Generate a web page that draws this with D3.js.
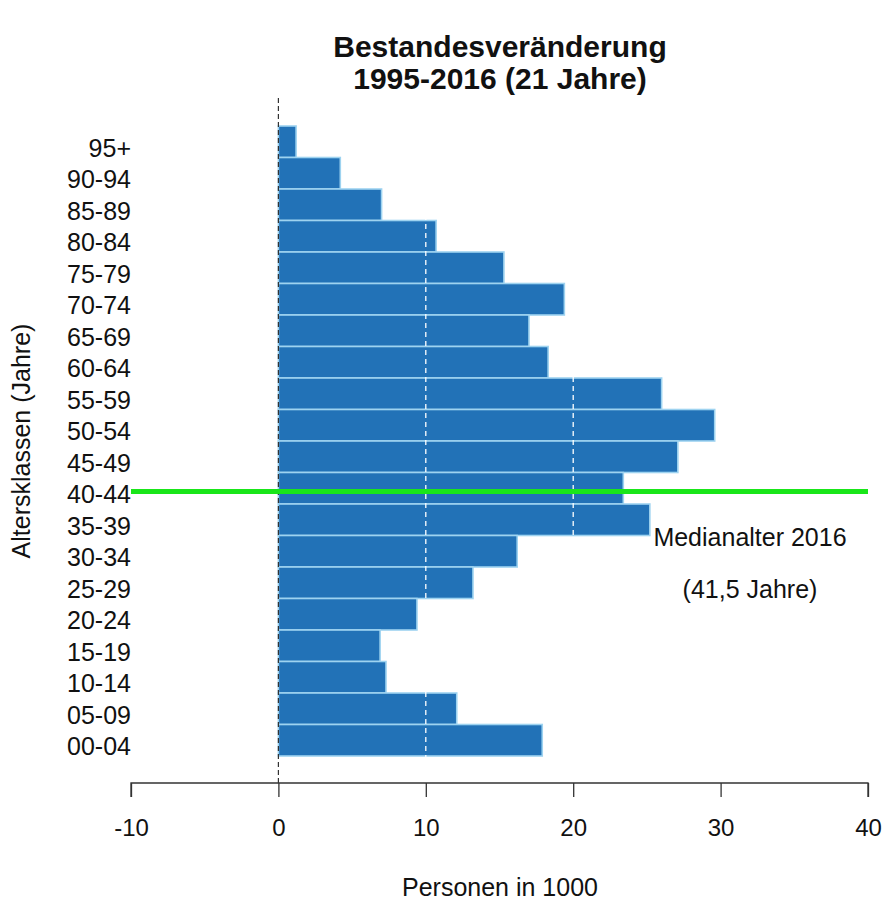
<!DOCTYPE html>
<html>
<head>
<meta charset="utf-8">
<script src="https://cdn.jsdelivr.net/npm/d3@7"></script>
<style>
body{margin:0;background:#fff;}
svg{display:block;font-family:"Liberation Sans",Arial,sans-serif;}
</style>
</head>
<body>
<svg id="c" width="886" height="904"></svg>
<script>
const categories = ["95+","90-94","85-89","80-84","75-79","70-74","65-69","60-64","55-59","50-54","45-49","40-44","35-39","30-34","25-29","20-24","15-19","10-14","05-09","00-04"];
const values = [1.2,4.2,7.0,10.7,15.3,19.4,17.0,18.3,26.0,29.6,27.1,23.4,25.2,16.2,13.2,9.4,6.9,7.3,12.1,17.9];
const xTicks = [-10,0,10,20,30,40];
const gridValues = [10,20,30];
const medianAge = 41.5;
const medianClass = "40-44";
const titleLines = ["Bestandesveränderung","1995-2016 (21 Jahre)"];
const xTitle = "Personen in 1000";
const yTitle = "Altersklassen (Jahre)";
const medianLabel = ["Medianalter 2016","(41,5 Jahre)"];

const svg = d3.select("#c");
const x = d3.scaleLinear().domain([-10,40]).range([131,868]);
const y = d3.scaleBand().domain(categories).range([126,756]).padding(0);

// bars
svg.append("g").selectAll("rect").data(values).join("rect")
  .attr("x", x(0))
  .attr("y", (d,i)=>y(categories[i]))
  .attr("width", d=>x(d)-x(0))
  .attr("height", y.bandwidth())
  .attr("fill","#2272b7")
  .attr("stroke","#9ed3f0")
  .attr("stroke-width",1.6);

// white dashed grid lines over bars
svg.append("g").selectAll("line").data(gridValues).join("line")
  .attr("x1",d=>x(d)).attr("x2",d=>x(d))
  .attr("y1",98).attr("y2",770)
  .attr("stroke","#ffffff").attr("stroke-width",1.3)
  .attr("stroke-dasharray","5,4");

// zero dashed line
svg.append("line")
  .attr("x1",x(0)).attr("x2",x(0)).attr("y1",98).attr("y2",783)
  .attr("stroke","#333").attr("stroke-width",1.2)
  .attr("stroke-dasharray","5,3");

// median line
const lo = +medianClass.split("-")[0];
const my = y(medianClass) + y.bandwidth()*(1-(medianAge-lo)/5) - 3;
svg.append("line")
  .attr("x1",x(-10)).attr("x2",x(40)).attr("y1",my).attr("y2",my)
  .attr("stroke","#19e619").attr("stroke-width",5);

// median label
svg.append("text").attr("x",750).attr("y",546).attr("text-anchor","middle")
  .attr("font-size",25).attr("fill","#111").text(medianLabel[0]);
svg.append("text").attr("x",750).attr("y",598).attr("text-anchor","middle")
  .attr("font-size",25).attr("fill","#111").text(medianLabel[1]);

// category labels
svg.append("g").selectAll("text").data(categories).join("text")
  .attr("x",131)
  .attr("y",d=>y(d)+y.bandwidth()/2+15)
  .attr("text-anchor","end")
  .attr("font-size",25).attr("fill","#111")
  .text(d=>d);

// x axis
const xAxis = d3.axisBottom(x).tickValues(xTicks).tickSize(14).tickPadding(22).tickFormat(d=>String(d));
const ga = svg.append("g").attr("transform","translate(0,783)").call(xAxis);
ga.select(".domain").attr("stroke","#333").attr("stroke-width",1.3).attr("d",`M${x(-10)},14V0H${x(40)}V14`);
ga.selectAll(".tick line").attr("stroke","#333").attr("stroke-width",1.3);
ga.selectAll(".tick text").attr("font-size",24).attr("fill","#111")
  .attr("font-family","'Liberation Sans',Arial,sans-serif");

// titles
svg.append("text").attr("x",500).attr("y",57).attr("text-anchor","middle")
  .attr("font-size",30).attr("font-weight","bold").attr("fill","#111").text(titleLines[0]);
svg.append("text").attr("x",500).attr("y",89).attr("text-anchor","middle")
  .attr("font-size",30).attr("font-weight","bold").attr("fill","#111").text(titleLines[1]);

svg.append("text").attr("x",500).attr("y",896).attr("text-anchor","middle")
  .attr("font-size",25).attr("fill","#111").text(xTitle);

svg.append("text").attr("transform","translate(30,441) rotate(-90)").attr("text-anchor","middle")
  .attr("font-size",25).attr("fill","#111").text(yTitle);
</script>
</body>
</html>
